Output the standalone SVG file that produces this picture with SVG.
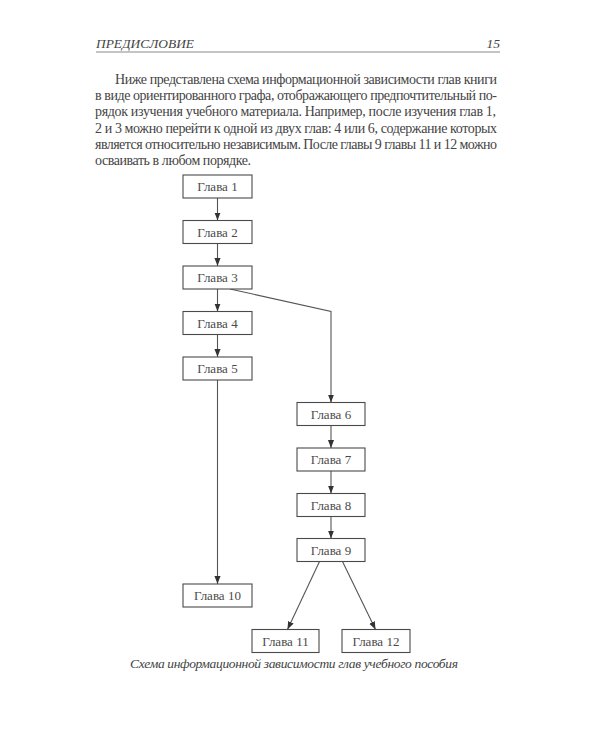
<svg xmlns="http://www.w3.org/2000/svg" width="600" height="750" viewBox="0 0 600 750">
<style>
  .txt { font-family: "Liberation Serif", "DejaVu Serif", serif; fill: #444444; }
  .body { font-size: 14px; }
  .hdr { font-size: 13.5px; font-style: italic; }
  .cap { font-size: 13.5px; font-style: italic; }
  .box rect { fill: #ffffff; stroke: #4a4a4a; stroke-width: 1.1; }
  .box text { font-family: "Liberation Serif", "DejaVu Serif", serif; font-size: 13px; fill: #4a4a4a; text-anchor: middle; }
  .conn line, .conn polyline { stroke: #555555; stroke-width: 1.1; fill: none; marker-end: url(#arr); }
</style>
<defs>
  <marker id="arr" viewBox="0 0 10 10" refX="10" refY="5" markerWidth="8" markerHeight="8" markerUnits="userSpaceOnUse" orient="auto">
    <path d="M0,1.2 L10,5 L0,8.8 z" fill="#333333"/>
  </marker>
</defs>
<rect width="600" height="750" fill="#ffffff"/>

<g id="header">
  <text class="txt hdr" x="96" y="47.5" textLength="98" lengthAdjust="spacingAndGlyphs">ПРЕДИСЛОВИЕ</text>
  <text class="txt hdr" x="500" y="47.5" text-anchor="end">15</text>
  <line x1="96" y1="52" x2="500" y2="52" stroke="#8a8a8a" stroke-width="1.2"/>
</g>

<g id="paragraph">
  <text class="txt body" x="115" y="84" textLength="382" lengthAdjust="spacing">Ниже представлена схема информационной зависимости глав книги</text>
  <text class="txt body" x="95" y="100.2" textLength="402" lengthAdjust="spacing">в виде ориентированного графа, отображающего предпочтительный по-</text>
  <text class="txt body" x="95" y="116.4" textLength="401" lengthAdjust="spacing">рядок изучения учебного материала. Например, после изучения глав 1,</text>
  <text class="txt body" x="95" y="132.6" textLength="402" lengthAdjust="spacing">2 и 3 можно перейти к одной из двух глав: 4 или 6, содержание которых</text>
  <text class="txt body" x="95" y="148.8" textLength="402" lengthAdjust="spacing">является относительно независимым. После главы 9 главы 11 и 12 можно</text>
  <text class="txt body" x="95" y="165" textLength="156" lengthAdjust="spacing">осваивать в любом порядке.</text>
</g>

<g id="connectors" class="conn">
  <line x1="217.5" y1="198" x2="217.5" y2="220.5"/>
  <line x1="217.5" y1="243.5" x2="217.5" y2="266"/>
  <line x1="217.5" y1="289" x2="217.5" y2="311.5"/>
  <line x1="217.5" y1="334.5" x2="217.5" y2="357"/>
  <line x1="217.5" y1="380" x2="217.5" y2="584"/>
  <polyline points="230,289 331,311.5 331,402.5"/>
  <line x1="331" y1="425.5" x2="331" y2="448"/>
  <line x1="331" y1="471" x2="331" y2="493.5"/>
  <line x1="331" y1="516.5" x2="331" y2="538.5"/>
  <line x1="319.5" y1="561.5" x2="287.5" y2="629.5"/>
  <line x1="342.5" y1="561.5" x2="375.5" y2="629.5"/>
</g>

<g id="ch1" class="box"><rect x="183" y="175" width="69" height="23"/><text x="217.5" y="191">Глава 1</text></g>
<g id="ch2" class="box"><rect x="183" y="220.5" width="69" height="23"/><text x="217.5" y="236.5">Глава 2</text></g>
<g id="ch3" class="box"><rect x="183" y="266" width="69" height="23"/><text x="217.5" y="282">Глава 3</text></g>
<g id="ch4" class="box"><rect x="183" y="311.5" width="69" height="23"/><text x="217.5" y="327.5">Глава 4</text></g>
<g id="ch5" class="box"><rect x="183" y="357" width="69" height="23"/><text x="217.5" y="373">Глава 5</text></g>
<g id="ch6" class="box"><rect x="297" y="402.5" width="68" height="23"/><text x="331" y="418.5">Глава 6</text></g>
<g id="ch7" class="box"><rect x="297" y="448" width="68" height="23"/><text x="331" y="464">Глава 7</text></g>
<g id="ch8" class="box"><rect x="297" y="493.5" width="68" height="23"/><text x="331" y="509.5">Глава 8</text></g>
<g id="ch9" class="box"><rect x="297" y="538.5" width="68" height="23"/><text x="331" y="554.5">Глава 9</text></g>
<g id="ch10" class="box"><rect x="183" y="584" width="69" height="23"/><text x="217.5" y="600">Глава 10</text></g>
<g id="ch11" class="box"><rect x="252" y="629.5" width="67" height="23"/><text x="285.5" y="645.5">Глава 11</text></g>
<g id="ch12" class="box"><rect x="342" y="629.5" width="68" height="23"/><text x="376" y="645.5">Глава 12</text></g>

<g id="caption">
  <text class="txt cap" x="130" y="668" textLength="328" lengthAdjust="spacing">Схема информационной зависимости глав учебного пособия</text>
</g>
</svg>
